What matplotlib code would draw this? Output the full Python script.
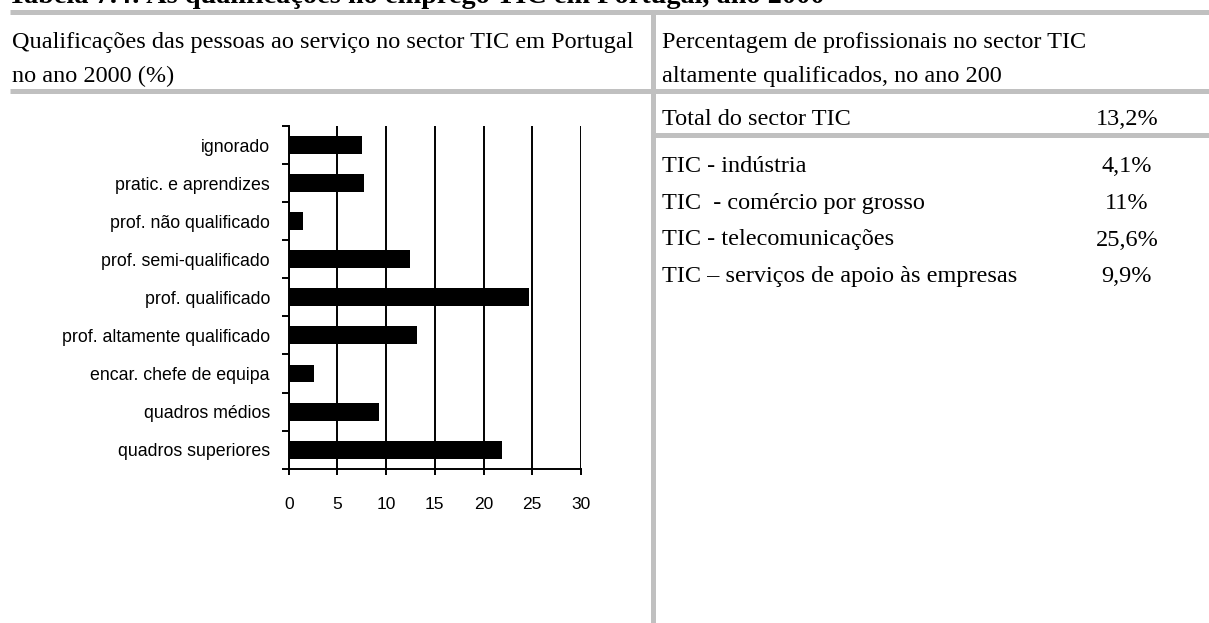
import matplotlib
matplotlib.use("Agg")
import matplotlib.pyplot as plt
from matplotlib.lines import Line2D
import numpy as np

# ---- data ----
categories = ["ignorado", "pratic. e aprendizes", "prof. não qualificado",
              "prof. semi-qualificado", "prof. qualificado",
              "prof. altamente qualificado", "encar. chefe de equipa",
              "quadros médios", "quadros superiores"]
values = [7.5, 7.7, 1.5, 12.4, 24.7, 13.2, 2.6, 9.3, 21.9]
x_ticks = [0, 5, 10, 15, 20, 25, 30]

title = "Tabela 7.4: As qualificações no emprego TIC em Portugal, ano 2000"
left_header = ["Qualificações das pessoas ao serviço no sector TIC em Portugal",
               "no ano 2000 (%)"]
right_header = ["Percentagem de profissionais no sector TIC",
                "altamente qualificados, no ano 200"]
total_label = "Total do sector TIC"
total_value = "13,2%"
sector_labels = ["TIC - indústria", "TIC  - comércio por grosso",
                 "TIC - telecomunicações", "TIC – serviços de apoio às empresas"]
sector_values = ["4,1%", "11%", "25,6%", "9,9%"]

# ---- figure ----
W, H = 1209, 623
fig = plt.figure(figsize=(W / 100, H / 100), dpi=100)
fig.patch.set_facecolor("white")

def fx(x):
    return x / W

def fy(y):
    return 1 - y / H

SERIF = "Liberation Serif"
SANS = "Liberation Sans"
GRAY = "#c0c0c0"
LWG = 3.6

def hline(y, x0, x1):
    fig.add_artist(Line2D([fx(x0), fx(x1)], [fy(y), fy(y)], color=GRAY,
                          lw=LWG, transform=fig.transFigure, solid_capstyle="butt"))

def vline(x, y0, y1):
    fig.add_artist(Line2D([fx(x), fx(x)], [fy(y0), fy(y1)], color=GRAY,
                          lw=LWG, transform=fig.transFigure, solid_capstyle="butt"))

# table rules
hline(12, 10, W)
hline(91, 10, W)
hline(134.5, 652, W)
vline(652.5, 10, H)

# title (partly cut off at top, as in the source page)
fig.text(fx(8), fy(3), title, family=SERIF, fontsize=20.3, fontweight="bold",
         va="baseline", ha="left")

# headers
fs_serif = 17.5
fig.text(fx(12), fy(48), left_header[0], family=SERIF, fontsize=fs_serif, va="baseline")
fig.text(fx(12), fy(82), left_header[1], family=SERIF, fontsize=fs_serif, va="baseline")
fig.text(fx(662), fy(48), right_header[0], family=SERIF, fontsize=fs_serif, va="baseline")
fig.text(fx(662), fy(82), right_header[1], family=SERIF, fontsize=fs_serif, va="baseline")

# right table
vx = 1127
fig.text(fx(662), fy(125), total_label, family=SERIF, fontsize=fs_serif, va="baseline")
fig.text(fx(vx), fy(125), total_value, family=SERIF, fontsize=fs_serif, va="baseline", ha="center")
row_y = [172, 209, 245.5, 282]
for lab, val, y in zip(sector_labels, sector_values, row_y):
    fig.text(fx(662), fy(y), lab, family=SERIF, fontsize=fs_serif, va="baseline")
    fig.text(fx(vx), fy(y), val, family=SERIF, fontsize=fs_serif, va="baseline", ha="center")

# ---- bar chart ----
ax_l, ax_r, ax_t, ax_b = 288.7, 581, 126, 468.7
ax = fig.add_axes([fx(ax_l), fy(ax_b), (ax_r - ax_l) / W, (ax_b - ax_t) / H])
pos = np.arange(len(categories))
ax.barh(pos, values, height=0.47, color="black", zorder=3)
ax.set_xlim(0, 30)
ax.set_ylim(len(categories) - 0.5, -0.5)

ax.set_xticks(x_ticks)
ax.set_xticklabels([str(t) for t in x_ticks], family=SANS, fontsize=12.5)
ax.tick_params(axis="x", direction="out", length=4.3, width=1.4, pad=16, colors="black")

ax.set_yticks(np.arange(-0.5, len(categories), 1.0))
ax.set_yticklabels([])
ax.set_yticks(pos, minor=True)
ax.set_yticklabels(categories, minor=True, family=SANS, fontsize=12.8)
ax.tick_params(axis="y", which="major", direction="out", length=4.8, width=1.4)
ax.tick_params(axis="y", which="minor", length=0, pad=13.5)

ax.xaxis.grid(True, color="black", lw=1.4, zorder=1)
ax.set_axisbelow(True)
for s in ["top", "right"]:
    ax.spines[s].set_visible(False)
for s in ["left", "bottom"]:
    ax.spines[s].set_linewidth(1.4)
    ax.spines[s].set_color("black")
    ax.spines[s].set_zorder(4)
ax.set_facecolor("white")

fig.savefig("out.png", dpi=100)
